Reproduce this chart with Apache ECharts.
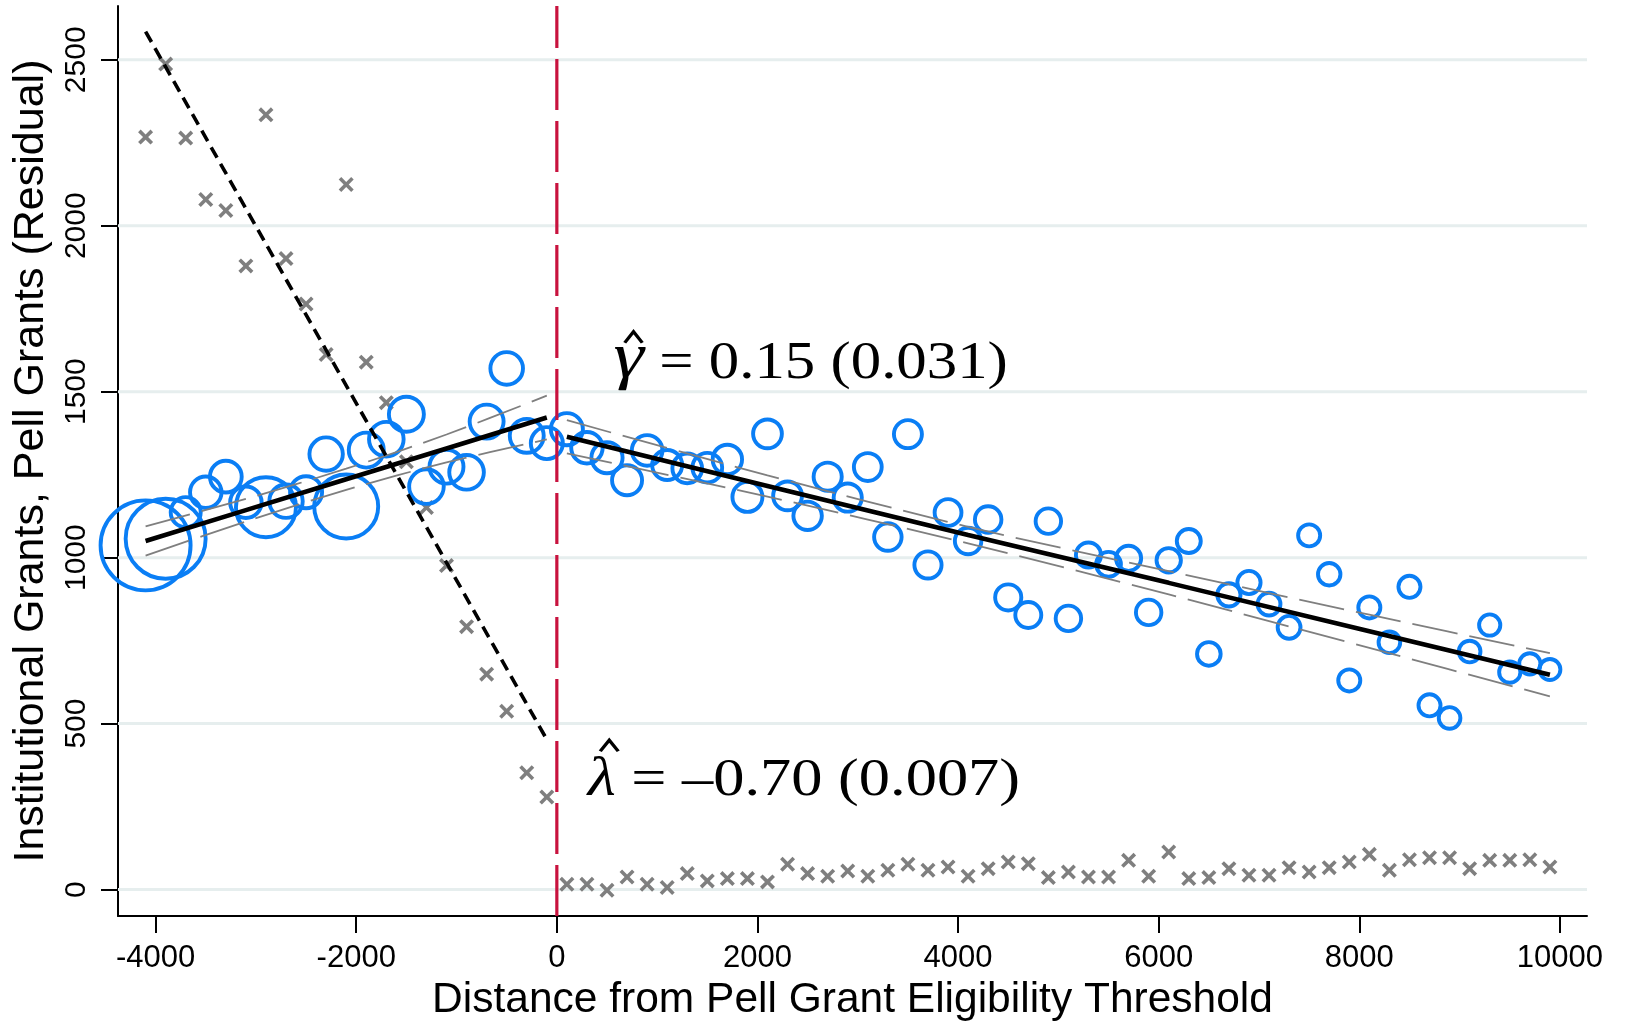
<!DOCTYPE html>
<html>
<head>
<meta charset="utf-8">
<title>Institutional grants and Pell grants around the eligibility threshold</title>
<script src="https://cdn.jsdelivr.net/npm/echarts@6/dist/echarts.min.js"></script>
<style>
  html, body { margin: 0; padding: 0; background: #ffffff; }
  #chart { width: 1627px; height: 1027px; }
</style>
</head>
<body>
<div id="chart"></div>
<script>
// ---- Binned data: distance from the Pell eligibility threshold ($200 bins) ----
const binsLeft = [-4100, -3900, -3700, -3500, -3300, -3100, -2900, -2700, -2500, -2300,
  -2100, -1900, -1700, -1500, -1300, -1100, -900, -700, -500, -300, -100];
const binsRight = [100, 300, 500, 700, 900, 1100, 1300, 1500, 1700, 1900,
  2100, 2300, 2500, 2700, 2900, 3100, 3300, 3500, 3700, 3900,
  4100, 4300, 4500, 4700, 4900, 5100, 5300, 5500, 5700, 5900,
  6100, 6300, 6500, 6700, 6900, 7100, 7300, 7500, 7700, 7900,
  8100, 8300, 8500, 8700, 8900, 9100, 9300, 9500, 9700, 9900];

// Institutional grants (residual), bin means
const instLeft = [1037, 1057, 1137, 1197, 1244, 1167, 1152, 1170, 1197, 1312,
  1154, 1324, 1357, 1432, 1214, 1274, 1257, 1410, 1570, 1367, 1345];
const instRight = [1387, 1331, 1301, 1233, 1323, 1279, 1269, 1271, 1296, 1183,
  1373, 1186, 1126, 1244, 1181, 1273, 1062, 1372, 978, 1136,
  1050, 1115, 880, 827, 1110, 817, 1008, 980, 998, 835,
  992, 1050, 710, 888, 925, 860, 790, 1067, 950, 630,
  850, 745, 912, 555, 517, 717, 797, 655, 680, 663];

// Observations per bin (marker area scales with these)
const countLeft = [900, 711, 100, 110, 112, 110, 400, 124, 114, 124,
  455, 136, 133, 136, 133, 128, 133, 128, 118, 128, 114];
const countRight = [114, 110, 108, 100, 104, 100, 98, 98, 96, 100,
  92, 92, 90, 88, 88, 86, 84, 87, 82, 80,
  78, 78, 76, 75, 72, 72, 70, 68, 70, 72,
  66, 64, 62, 60, 60, 58, 58, 54, 56, 54,
  54, 52, 54, 54, 52, 52, 50, 50, 50, 49];

// Pell grants (residual), bin means
const pellLeft = [2267, 2487, 2264, 2079, 2046, 1879, 2334, 1901, 1764, 1612,
  2124, 1589, 1467, 1289, 1151, 976, 792, 649, 537, 352, 279];
const pellRight = [16, 16, -2, 38, 16, 6, 48, 26, 33, 33,
  23, 76, 48, 40, 56, 40, 58, 76, 58, 68,
  40, 63, 83, 78, 36, 53, 38, 38, 88, 40,
  113, 33, 36, 63, 43, 43, 66, 53, 66, 83,
  106, 58, 90, 96, 96, 63, 88, 88, 90, 68];

// Fitted institutional-grant lines with 95% bands
const fitLeftX = [-4100, -3100, -2100, -1100, -100];
const fitLeftY = [1050, 1143, 1236, 1329, 1422];
const bandLeftUpper = [1094, 1177, 1268, 1371, 1488];
const bandLeftLower = [1006, 1109, 1204, 1287, 1356];

const fitRightX = [100, 2100, 4100, 6100, 8100, 9900];
const fitRightY = [1364, 1216, 1068, 924, 778, 647];
const bandRightUpper = [1414, 1248, 1093, 959, 828, 712];
const bandRightLower = [1314, 1184, 1043, 889, 728, 582];

// Fitted Pell line below the threshold
const pellFitX = [-4100, -100];
const pellFitY = [2585, 452];

// Axes
const xTicks = [-4000, -2000, 0, 2000, 4000, 6000, 8000, 10000];
const yTicks = [0, 500, 1000, 1500, 2000, 2500];
const xRange = [-4375, 10270];
const yRange = [-80, 2662];

// ---- Styling ----
const BLUE = '#0a7ef5';
const GREY = '#7f7f7f';
const RED = '#c8123e';
const GRID = '#e6eeee';
const SANS = '"Liberation Sans", Arial, Helvetica, sans-serif';
const SERIF = '"Liberation Serif", "Times New Roman", Times, serif';
const CROSS = 'path://M1.7,0 L5,3.3 L8.3,0 L10,1.7 L6.7,5 L10,8.3 L8.3,10 L5,6.7 L1.7,10 L0,8.3 L3.3,5 L0,1.7 Z';

const zip = (xs, ys) => xs.map((x, i) => [x, ys[i]]);
const plain = v => String(v);

const chart = echarts.init(document.getElementById('chart'), null, { renderer: 'canvas' });

const series = [];

// horizontal grid lines at the y ticks
yTicks.forEach(v => {
  series.push({
    type: 'line', silent: true, z: 1, symbol: 'none',
    data: [[xRange[0], v], [xRange[1], v]],
    lineStyle: { color: GRID, width: 3 }
  });
});

// Pell grant bin means (crosses)
series.push({
  type: 'scatter', z: 2, symbol: CROSS, symbolSize: 15,
  data: zip(binsLeft, pellLeft).concat(zip(binsRight, pellRight)),
  itemStyle: { color: GREY, opacity: 1 }
});

// Institutional grant bin means (hollow circles, area ~ bin count)
series.push({
  type: 'scatter', z: 3, symbol: 'circle',
  data: binsLeft.map((x, i) => [x, instLeft[i], countLeft[i]])
    .concat(binsRight.map((x, i) => [x, instRight[i], countRight[i]])),
  symbolSize: v => 3 * Math.sqrt(v[2]),
  itemStyle: { color: 'rgba(0,0,0,0)', borderColor: BLUE, borderWidth: 3.9, opacity: 1 }
});

// confidence bands
[[fitLeftX, bandLeftUpper], [fitLeftX, bandLeftLower],
 [fitRightX, bandRightUpper], [fitRightX, bandRightLower]].forEach(([xs, ys]) => {
  series.push({
    type: 'line', z: 4, symbol: 'none', smooth: 0.3,
    data: zip(xs, ys),
    lineStyle: { color: GREY, width: 1.8, type: [46, 12] }
  });
});

// fitted institutional-grant lines
[[fitLeftX, fitLeftY], [fitRightX, fitRightY]].forEach(([xs, ys]) => {
  series.push({
    type: 'line', z: 5, symbol: 'none',
    data: zip(xs, ys),
    lineStyle: { color: '#000000', width: 4.6 }
  });
});

// fitted Pell line
series.push({
  type: 'line', z: 5, symbol: 'none',
  data: zip(pellFitX, pellFitY),
  lineStyle: { color: '#000000', width: 3.6, type: [12, 7] }
});

// eligibility threshold
series.push({
  type: 'line', z: 6, symbol: 'none',
  data: [[0, yRange[0]], [0, yRange[1]]],
  lineStyle: { color: RED, width: 3.2, type: [51, 11] }
});

chart.setOption({
  animation: false,
  backgroundColor: '#ffffff',
  grid: { left: 118, right: 40, top: 6, bottom: 106, containLabel: false },
  xAxis: {
    type: 'value', min: xRange[0], max: xRange[1],
    splitLine: { show: false },
    axisLine: { show: true, onZero: false, lineStyle: { color: '#000', width: 2 } },
    axisTick: { show: true, length: 17, lineStyle: { color: '#000', width: 2 }, customValues: xTicks },
    axisLabel: { fontSize: 31, fontFamily: SANS, color: '#000', margin: 27,
      customValues: xTicks, formatter: plain },
    name: 'Distance from Pell Grant Eligibility Threshold',
    nameLocation: 'middle', nameGap: 57,
    nameTextStyle: { fontSize: 42.5, fontFamily: SANS, color: '#000' }
  },
  yAxis: {
    type: 'value', min: yRange[0], max: yRange[1],
    splitLine: { show: false },
    axisLine: { show: true, onZero: false, lineStyle: { color: '#000', width: 2 } },
    axisTick: { show: true, length: 17, lineStyle: { color: '#000', width: 2 }, customValues: yTicks },
    axisLabel: { fontSize: 30, fontFamily: SANS, color: '#000', rotate: 90, margin: 26,
      customValues: yTicks, formatter: plain },
    name: 'Institutional Grants, Pell Grants (Residual)',
    nameLocation: 'middle', nameGap: 65,
    nameTextStyle: { fontSize: 43, fontFamily: SANS, color: '#000' }
  },
  series: series
});

// ---- Coefficient notes, anchored in data coordinates ----
const FS = 52;
const notes = [
  { x: 566, y: 1530, letter: 'γ', letterSize: 66, rest: ' = 0.15 (0.031)', hatX: 17, hatY: 39, scale: 1.17 },
  { x: 307, y: 272, letter: 'λ', letterSize: 54, rest: ' = –0.70 (0.007)', hatX: 18, hatY: 48, scale: 1.2 }
];
const measure = document.createElement('canvas').getContext('2d');
const noteGraphics = notes.map(n => {
  const p = chart.convertToPixel({ gridIndex: 0 }, [n.x, n.y]);
  const letterFont = 'italic ' + n.letterSize + 'px ' + SERIF;
  measure.font = letterFont;
  const wLetter = measure.measureText(n.letter).width;
  return {
    type: 'group', x: p[0], y: p[1], scaleX: n.scale, z: 100,
    children: [
      { type: 'text', x: 0, y: -0.3375 * n.letterSize,
        style: { text: n.letter, font: letterFont, fill: '#000', verticalAlign: 'middle' } },
      { type: 'polyline',
        shape: { points: [[n.hatX - 7.5, -n.hatY], [n.hatX, -n.hatY - 11], [n.hatX + 7.5, -n.hatY]] },
        style: { stroke: '#000', lineWidth: 3, fill: null, lineJoin: 'miter' } },
      { type: 'text', x: wLetter, y: -0.3375 * FS,
        style: { text: n.rest, font: FS + 'px ' + SERIF, fill: '#000', verticalAlign: 'middle' } }
    ]
  };
});
chart.setOption({ graphic: noteGraphics });
</script>
</body>
</html>
